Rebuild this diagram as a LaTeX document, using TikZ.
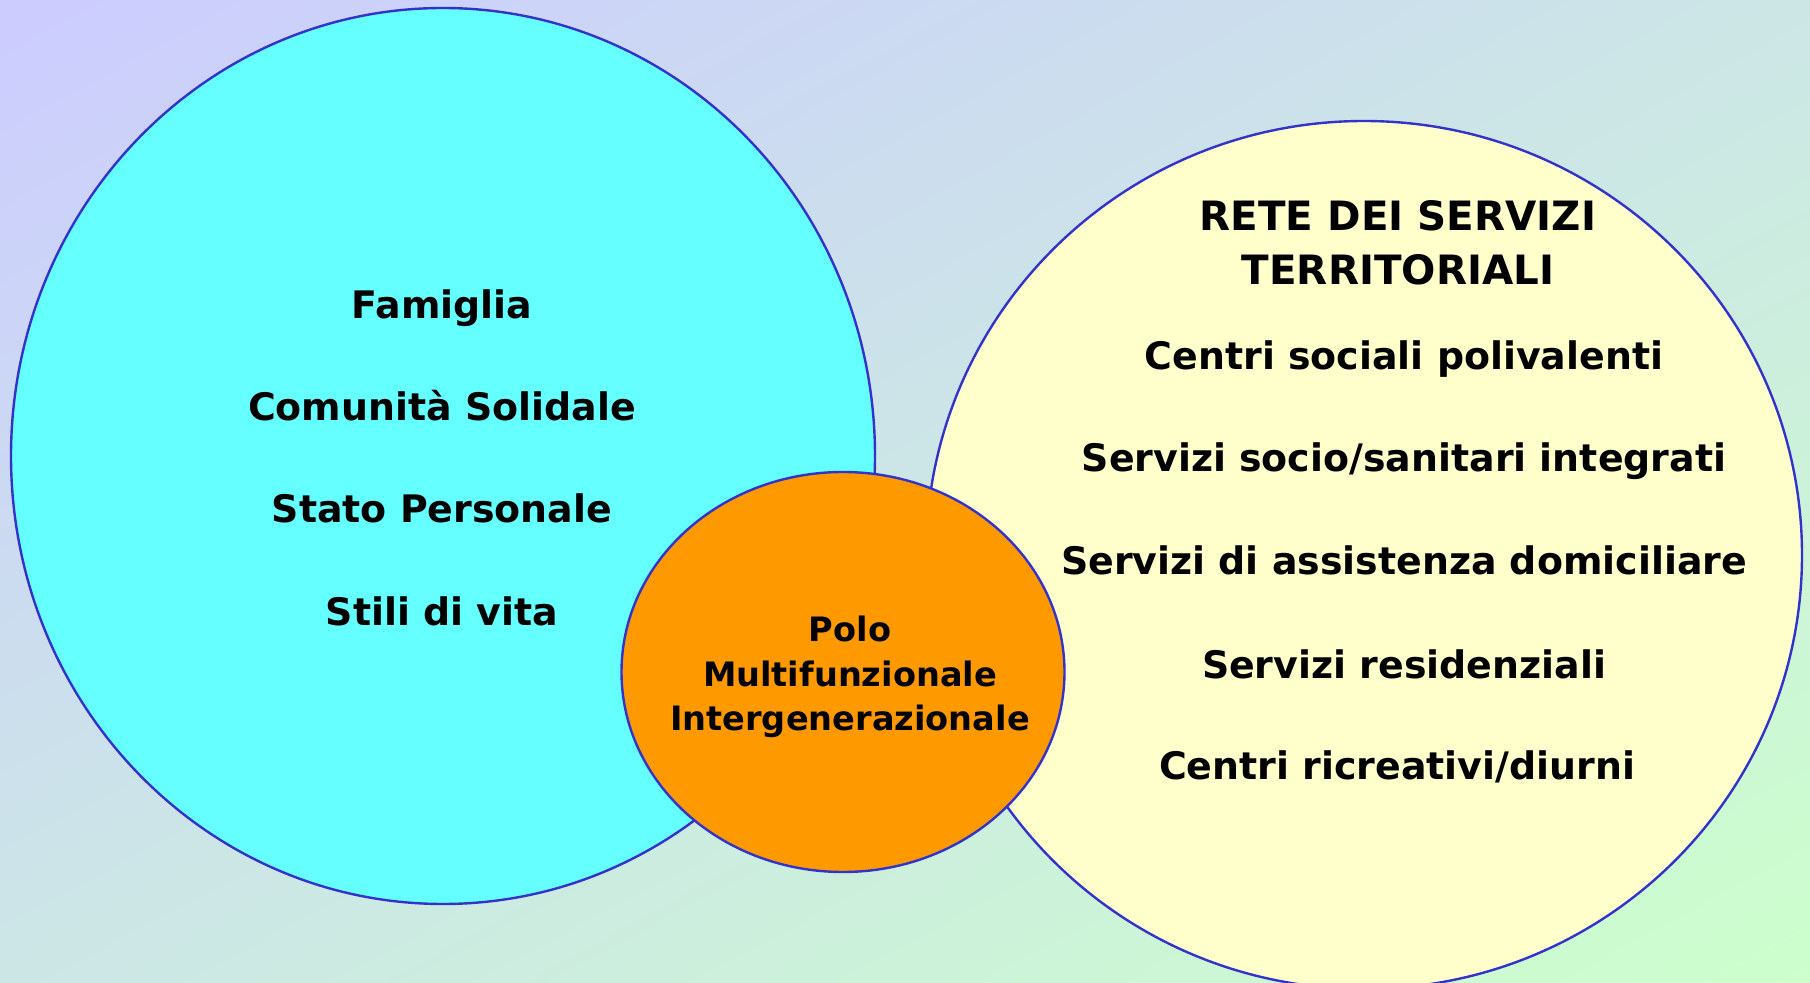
\documentclass[tikz,border=0pt]{standalone}
\usepackage{fontspec}
\setmainfont{DejaVu Sans}
\usetikzlibrary{shapes.geometric,shadings}
\definecolor{bgA}{HTML}{CCCCFF}
\definecolor{bgB}{HTML}{CCFFCC}
\definecolor{bgM}{HTML}{CCE6E6}
\definecolor{linec}{HTML}{3333CC}
\definecolor{cyanf}{HTML}{66FFFF}
\definecolor{yelf}{HTML}{FFFFCC}
\definecolor{orf}{HTML}{FF9900}
\begin{document}
\begin{tikzpicture}[x=0.5pt,y=-0.5pt,
  circ/.style={ellipse, draw=linec, line width=1.2pt, inner sep=0pt},
  lbl/.style={font=\bfseries\fontsize{18.95}{22}\selectfont, anchor=base, inner sep=0pt},
  hlbl/.style={font=\bfseries\fontsize{20.2}{24}\selectfont, anchor=base, inner sep=0pt},
  slbl/.style={font=\bfseries\fontsize{16.8}{20}\selectfont, anchor=base, inner sep=0pt}]
\useasboundingbox (0,0) rectangle (1810,983);
\clip (0,0) rectangle (1810,983);
\shade[upper left=bgA, upper right=bgM, lower left=bgM, lower right=bgB] (0,0) rectangle (1810,983);
\node[circ, fill=cyanf, minimum width=432pt, minimum height=448pt] (left) at (443,456) {};
\node[circ, fill=yelf, minimum width=438pt, minimum height=434pt] (right) at (1364,555) {};
\node[circ, fill=orf, minimum width=221.5pt, minimum height=200pt] (polo) at (843,672) {};
% left texts
\node[lbl] (famiglia) at (442,319) {Famiglia};
\node[lbl] (comunita) at (442,421) {Comunità Solidale};
\node[lbl] (stato) at (442,523) {Stato Personale};
\node[lbl] (stili) at (442,626) {Stili di vita};
% right texts
\node[hlbl] (rete) at (1398,231) {RETE DEI SERVIZI};
\node[hlbl] (terr) at (1398,285) {TERRITORIALI};
\node[lbl] (centri) at (1404,370) {Centri sociali polivalenti};
\node[lbl] (sociosan) at (1404,472) {Servizi socio/sanitari integrati};
\node[lbl] (assist) at (1404,575) {Servizi di assistenza domiciliare};
\node[lbl] (resid) at (1404,678) {Servizi residenziali};
\node[lbl] (ricr) at (1397,779) {Centri ricreativi/diurni};
% centre texts
\node[slbl] (polo1) at (850,641) {Polo};
\node[slbl] (polo2) at (850,686) {Multifunzionale};
\node[slbl] (polo3) at (850,730) {Intergenerazionale};
\end{tikzpicture}
\end{document}
